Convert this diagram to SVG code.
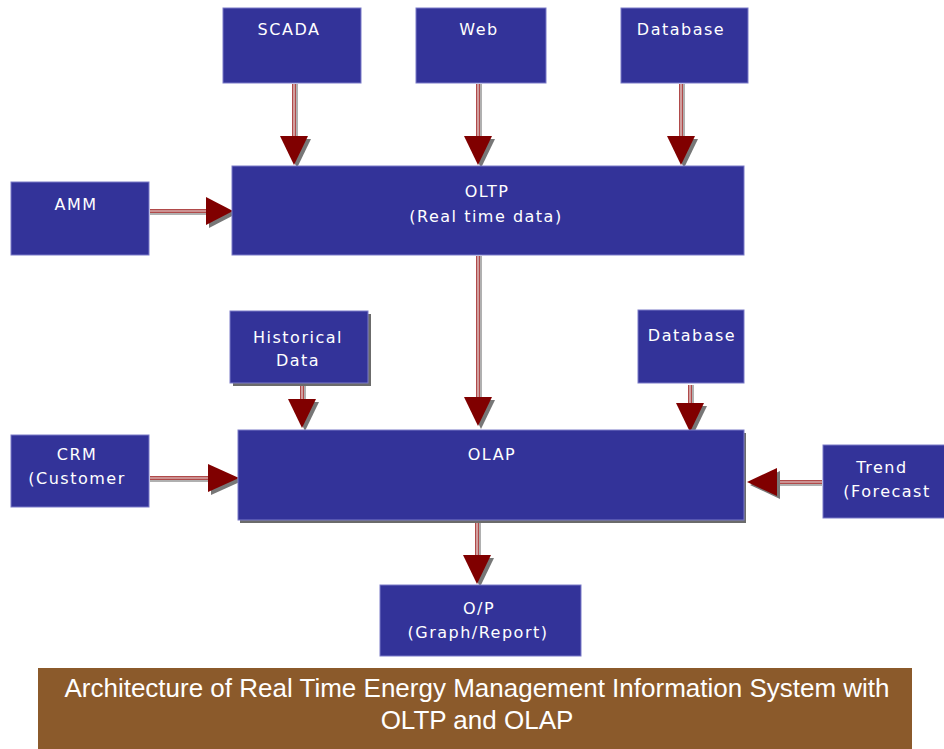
<svg xmlns="http://www.w3.org/2000/svg" width="944" height="749" viewBox="0 0 944 749">
<style>
.box{fill:#333399;stroke:#7a7ac8;stroke-width:1}
.sh{fill:#6b6b6b}
.t{font-family:"DejaVu Sans",Verdana,sans-serif;font-size:16px;fill:#ffffff;text-anchor:middle;letter-spacing:1.5px}
.cap{font-family:"Liberation Sans",Arial,sans-serif;font-size:26px;fill:#ffffff;text-anchor:middle}
.shaftS{stroke:#b0b0b0;stroke-width:2;fill:none}
.shaft{stroke:#b04a4a;stroke-width:4;fill:none}
.shaftI{stroke:#e8d8d8;stroke-width:1.2;fill:none}
.head{fill:#800000}
.headS{fill:#777777}
</style>
<defs>
<g id="ah">
<polygon class="headS" points="-11,-26 17,-26 3,3"/>
<polygon class="head" points="-14,-29 14,-29 0,0"/>
</g>
</defs>
<rect width="944" height="749" fill="#ffffff"/>

<g id="connectors">
<g>
<line class="shaftS" x1="297" y1="84" x2="297" y2="137"/>
<line class="shaft" x1="294" y1="84" x2="294" y2="137"/>
<line class="shaftI" x1="294" y1="84" x2="294" y2="137"/>

<line class="shaftS" x1="481" y1="84" x2="481" y2="137"/>
<line class="shaft" x1="478" y1="84" x2="478" y2="137"/>
<line class="shaftI" x1="478" y1="84" x2="478" y2="137"/>

<line class="shaftS" x1="684" y1="84" x2="684" y2="137"/>
<line class="shaft" x1="681" y1="84" x2="681" y2="137"/>
<line class="shaftI" x1="681" y1="84" x2="681" y2="137"/>

<line class="shaftS" x1="481" y1="256" x2="481" y2="399"/>
<line class="shaft" x1="478" y1="256" x2="478" y2="399"/>
<line class="shaftI" x1="478" y1="256" x2="478" y2="399"/>

<line class="shaftS" x1="305" y1="384" x2="305" y2="400"/>
<line class="shaft" x1="302" y1="384" x2="302" y2="400"/>
<line class="shaftI" x1="302" y1="384" x2="302" y2="400"/>

<line class="shaftS" x1="693" y1="385" x2="693" y2="404"/>
<line class="shaft" x1="690" y1="385" x2="690" y2="404"/>
<line class="shaftI" x1="690" y1="385" x2="690" y2="404"/>

<line class="shaftS" x1="480" y1="521" x2="480" y2="557"/>
<line class="shaft" x1="477" y1="521" x2="477" y2="557"/>
<line class="shaftI" x1="477" y1="521" x2="477" y2="557"/>
</g>
<g>
<line class="shaftS" x1="150" y1="214" x2="208" y2="214"/>
<line class="shaft" x1="150" y1="211" x2="208" y2="211"/>
<line class="shaftI" x1="150" y1="211" x2="208" y2="211"/>

<line class="shaftS" x1="150" y1="481" x2="210" y2="481"/>
<line class="shaft" x1="150" y1="478" x2="210" y2="478"/>
<line class="shaftI" x1="150" y1="478" x2="210" y2="478"/>

<line class="shaftS" x1="776" y1="485" x2="822" y2="485"/>
<line class="shaft" x1="776" y1="482" x2="822" y2="482"/>
<line class="shaftI" x1="776" y1="482" x2="822" y2="482"/>
</g>
<use href="#ah" transform="translate(294,165)"/>
<use href="#ah" transform="translate(478,165)"/>
<use href="#ah" transform="translate(681,165)"/>
<use href="#ah" transform="translate(478,426)"/>
<use href="#ah" transform="translate(302,428)"/>
<use href="#ah" transform="translate(690,432)"/>
<use href="#ah" transform="translate(477,584)"/>
<g transform="translate(233,211)"><polygon class="headS" points="-24,-11 -24,17 3,3"/><polygon class="head" points="-27,-14 -27,14 0,0"/></g>
<g transform="translate(239,478)"><polygon class="headS" points="-28,-11 -28,17 3,3"/><polygon class="head" points="-31,-14 -31,14 0,0"/></g>
<g transform="translate(747,482)"><polygon class="headS" points="33,-11 33,17 3,3"/><polygon class="head" points="30,-14 30,14 0,0"/></g>
</g>

<g id="scada"><rect class="box" x="223" y="8" width="138" height="75"/><text class="t" x="289" y="35">SCADA</text></g>
<g id="web"><rect class="box" x="416" y="8" width="130" height="75"/><text class="t" x="479" y="35">Web</text></g>
<g id="database1"><rect class="box" x="621" y="8" width="127" height="75"/><text class="t" x="681" y="35">Database</text></g>
<g id="amm"><rect class="box" x="11" y="182" width="138" height="73"/><text class="t" x="76" y="210">AMM</text></g>
<g id="oltp"><rect class="box" x="232" y="166" width="512" height="89"/><text class="t" x="487" y="197">OLTP</text><text class="t" x="486" y="222">(Real time data)</text></g>
<g id="historical"><rect class="sh" x="233" y="314" width="138" height="72"/><rect class="box" x="230" y="311" width="138" height="72"/><text class="t" x="298" y="343">Historical</text><text class="t" x="298" y="366">Data</text></g>
<g id="database2"><rect class="box" x="638" y="310" width="106" height="73"/><text class="t" x="692" y="341">Database</text></g>
<g id="crm"><rect class="box" x="11" y="435" width="138" height="72"/><text class="t" x="77" y="460">CRM</text><text class="t" x="77" y="484">(Customer</text></g>
<g id="olap"><rect class="sh" x="240" y="433" width="506" height="90"/><rect class="box" x="238" y="430" width="506" height="90"/><text class="t" x="492" y="460">OLAP</text></g>
<g id="trend"><rect class="box" x="823" y="445" width="122" height="73"/><text class="t" x="882" y="473">Trend</text><text class="t" x="887" y="497">(Forecast</text></g>
<g id="op"><rect class="box" x="380" y="585" width="201" height="71"/><text class="t" x="479" y="614">O/P</text><text class="t" x="478" y="638">(Graph/Report)</text></g>

<g id="caption"><rect x="38" y="668" width="874" height="81" fill="#8b5a2b"/><text class="cap" x="477" y="697">Architecture of Real Time Energy Management Information System with</text><text class="cap" x="477" y="729">OLTP and OLAP</text></g>
</svg>
